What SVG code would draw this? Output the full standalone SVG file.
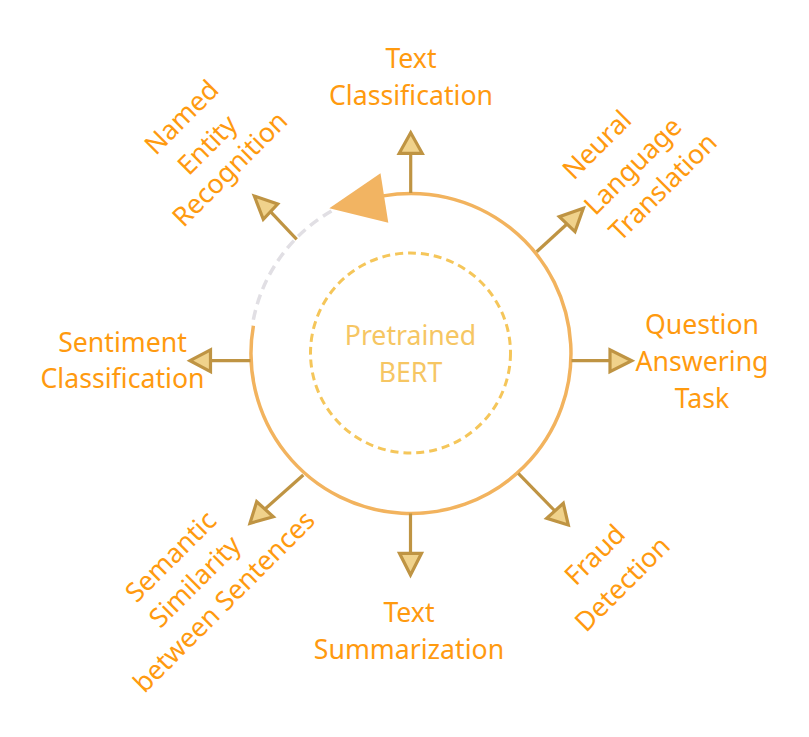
<svg xmlns="http://www.w3.org/2000/svg" width="809" height="737" viewBox="0 0 809 737">
<style>
.lbl{font-family:"Noto Sans","Open Sans","Liberation Sans",sans-serif;font-size:26.67px;fill:#FF9A0F;text-anchor:middle}
.ctr{font-family:"Noto Sans","Open Sans","Liberation Sans",sans-serif;font-size:26.67px;fill:#F6C663;text-anchor:middle}
.ln{stroke:#BF9443;stroke-width:3.2;fill:none}
.hd{fill:#F0D28B;stroke:#BF9443;stroke-width:3.2;stroke-linejoin:miter}
</style>
<rect width="809" height="737" fill="#ffffff"/>
<g id="ring">
<path d="M 331.5 211 A 161 161 0 0 0 252.3 325.7" fill="none" stroke="#E1DFE4" stroke-width="3.5" stroke-dasharray="10 6"/>
<path d="M 253.4 325.7 A 160 160 0 1 0 383.2 195.9" fill="none" stroke="#F2B35E" stroke-width="3.5"/>
<polygon points="329.3,208.3 380.5,173.3 388.3,222.7" fill="#F2B462"/>
</g>
<g id="bert">
<circle cx="410.5" cy="353" r="100" fill="none" stroke="#F5C65A" stroke-width="3" stroke-dasharray="8 5"/>
<text class="ctr" x="410.5" y="345">Pretrained</text>
<text class="ctr" x="410.5" y="381.7">BERT</text>
</g>
<g id="connectors">
<line class="ln" x1="410.7" y1="193" x2="410.7" y2="153.3"/>
<polygon class="hd" points="410.7,132.7 399.2,153.3 422.2,153.3"/>
<line class="ln" x1="296.7" y1="239.3" x2="270.5" y2="211.7"/>
<polygon class="hd" points="254.3,196 263.3,219.3 277.7,204"/>
<line class="ln" x1="536.7" y1="251.7" x2="567" y2="224"/>
<polygon class="hd" points="583.3,208.3 559.3,216.7 575,231.7"/>
<line class="ln" x1="571.5" y1="360.7" x2="610" y2="360.7"/>
<polygon class="hd" points="631.7,360.7 610,349.8 610,371.6"/>
<line class="ln" x1="250.5" y1="360.7" x2="210.5" y2="360.7"/>
<polygon class="hd" points="190,360.7 210.5,349.8 210.5,371.6"/>
<line class="ln" x1="410.5" y1="513.5" x2="410.5" y2="553.3"/>
<polygon class="hd" points="410.5,575 399.5,553.3 421.5,553.3"/>
<line class="ln" x1="518.3" y1="473.3" x2="555" y2="511"/>
<polygon class="hd" points="568.3,525 546.7,518.3 563.3,503.3"/>
<line class="ln" x1="303.3" y1="475" x2="265" y2="509"/>
<polygon class="hd" points="250,523.3 256.7,501.7 273.3,516.7"/>
</g>
<g id="n-text-classification">
<text class="lbl" x="411" y="68.3">Text</text>
<text class="lbl" x="411" y="105">Classification</text>
</g>
<g id="n-text-summarization">
<text class="lbl" x="409" y="622.3">Text</text>
<text class="lbl" x="409" y="659">Summarization</text>
</g>
<g id="n-question-answering">
<text class="lbl" x="702" y="333.5">Question</text>
<text class="lbl" x="702" y="371">Answering</text>
<text class="lbl" x="702" y="407.5">Task</text>
</g>
<g id="n-sentiment">
<text class="lbl" x="122.5" y="351.7">Sentiment</text>
<text class="lbl" x="122.5" y="388.3">Classification</text>
</g>
<g id="n-ner">
<text class="lbl" transform="translate(181.7,117.5) rotate(-45)" y="9">Named</text>
<text class="lbl" transform="translate(207.5,145) rotate(-45)" y="9">Entity</text>
<text class="lbl" transform="translate(230,169) rotate(-45)" y="9">Recognition</text>
</g>
<g id="n-nlt">
<text class="lbl" transform="translate(597,145) rotate(-45)" y="9">Neural</text>
<text class="lbl" transform="translate(633,166) rotate(-45)" y="9">Language</text>
<text class="lbl" transform="translate(663,187) rotate(-45)" y="9">Translation</text>
</g>
<g id="n-semantic">
<text class="lbl" transform="translate(170.8,556.7) rotate(-45)" y="9">Semantic</text>
<text class="lbl" transform="translate(195,581.7) rotate(-45)" y="9">Similarity</text>
<text class="lbl" transform="translate(224.2,601.7) rotate(-45)" y="9">between Sentences</text>
</g>
<g id="n-fraud">
<text class="lbl" transform="translate(595,555) rotate(-45)" y="9">Fraud</text>
<text class="lbl" transform="translate(622.5,584) rotate(-45)" y="9">Detection</text>
</g>
</svg>
